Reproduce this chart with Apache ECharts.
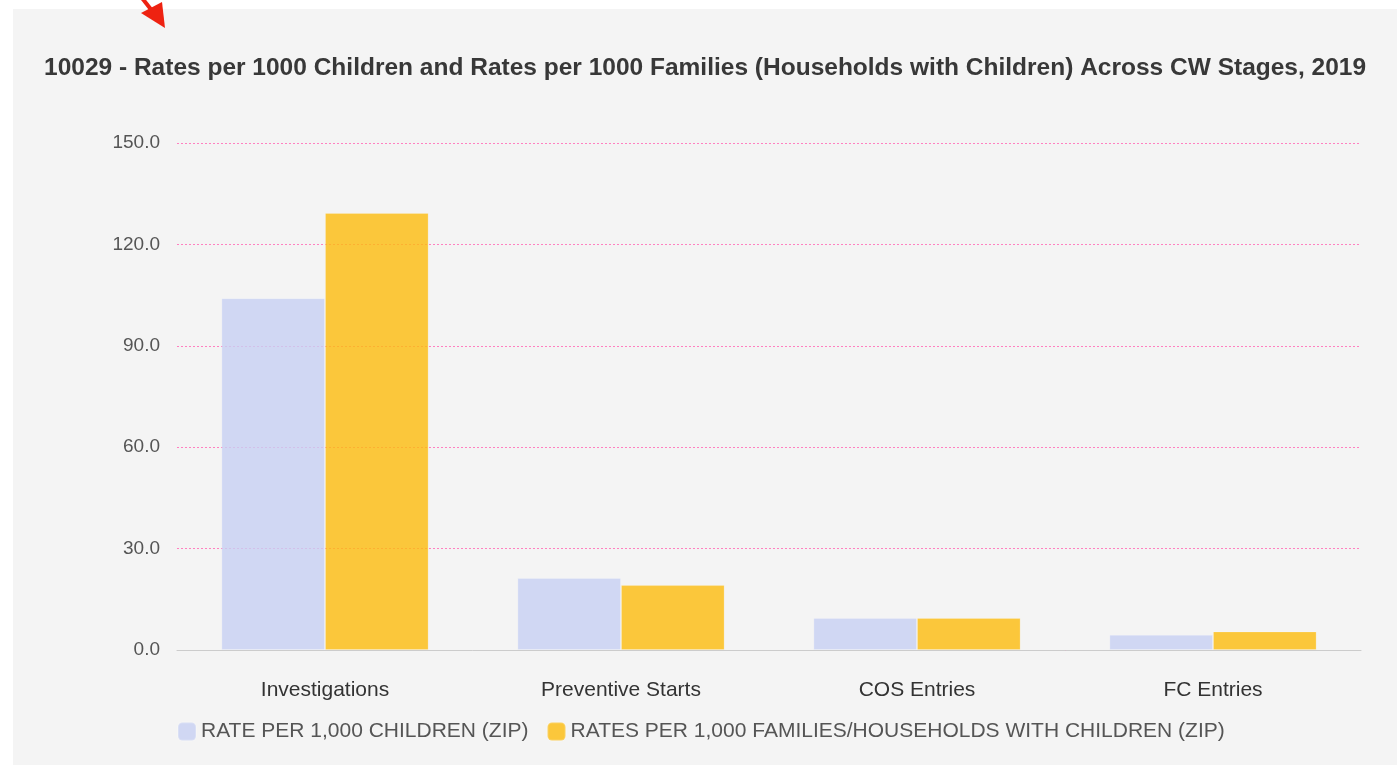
<!DOCTYPE html>
<html><head><meta charset="utf-8">
<script src="https://cdn.jsdelivr.net/npm/echarts@6/dist/echarts.min.js"></script>
<style>html,body{margin:0;padding:0;background:#fff;}#c{width:1397px;height:765px;}</style>
</head><body><div id="c"></div>
<script>
const categories = ['Investigations', 'Preventive Starts', 'COS Entries', 'FC Entries'];
const seriesNames = ['RATE PER 1,000 CHILDREN (ZIP)', 'RATES PER 1,000 FAMILIES/HOUSEHOLDS WITH CHILDREN (ZIP)'];
const ratePerChildren = [104.1, 21.3, 9.5, 4.5];
const ratePerFamilies = [129.3, 19.2, 9.5, 5.5];
const yTicks = [0, 30, 60, 90, 120, 150];

const chart = echarts.init(document.getElementById('c'), null, {renderer: 'canvas'});
const font = 'Liberation Sans, Arial, sans-serif';
chart.setOption({
  backgroundColor: '#ffffff',
  graphic: [
    {type: 'rect', z: -10, shape: {x: 13, y: 9, width: 1384, height: 756}, style: {fill: '#f4f4f4'}, silent: true},
    {type: 'line', z: 100, shape: {x1: 142, y1: -2, x2: 153, y2: 12}, style: {stroke: '#ee2211', lineWidth: 4}},
    {type: 'polygon', z: 100, shape: {points: [[141, 13], [165, 28], [162, 2]]}, style: {fill: '#ee2211'}}
  ],
  title: {
    text: '10029 - Rates per 1000 Children and Rates per 1000 Families (Households with Children) Across CW Stages, 2019',
    left: 44, top: 56, padding: 0,
    textStyle: {fontFamily: font, fontSize: 24.5, fontWeight: 'bold', color: '#383838'}
  },
  legend: {
    top: 721, left: 177, padding: 0,
    itemWidth: 18, itemHeight: 18, itemGap: 18,
    icon: 'roundRect',
    textStyle: {fontFamily: font, fontSize: 21, color: '#555'},
    data: seriesNames
  },
  grid: {left: 177, right: 36, top: 143, bottom: 115, containLabel: false},
  xAxis: {
    type: 'category', data: categories, offset: 3,
    axisLine: {lineStyle: {color: '#cccccc', width: 1}},
    axisTick: {lineStyle: {color: '#cccccc'}, length: 9},
    axisLabel: {fontFamily: font, fontSize: 21, color: '#333', margin: 27}
  },
  yAxis: {
    type: 'value', min: 0, max: 150, interval: 30,
    axisLabel: {fontFamily: font, fontSize: 19, color: '#555', margin: 17, formatter: v => v.toFixed(1)},
    axisLine: {show: false}, axisTick: {show: false},
    splitLine: {lineStyle: {color: '#ff80c0', type: [2, 2], width: 1}}
  },
  series: [
    {name: seriesNames[0], type: 'bar', data: ratePerChildren, barGap: '0%', barCategoryGap: '30%',
     itemStyle: {color: '#c7cff2', opacity: 0.8, borderColor: 'rgba(255,255,255,0.25)', borderWidth: 1}},
    {name: seriesNames[1], type: 'bar', data: ratePerFamilies,
     itemStyle: {color: '#fcbc0c', opacity: 0.8, borderColor: 'rgba(255,255,255,0.25)', borderWidth: 1}}
  ]
});
</script></body></html>
